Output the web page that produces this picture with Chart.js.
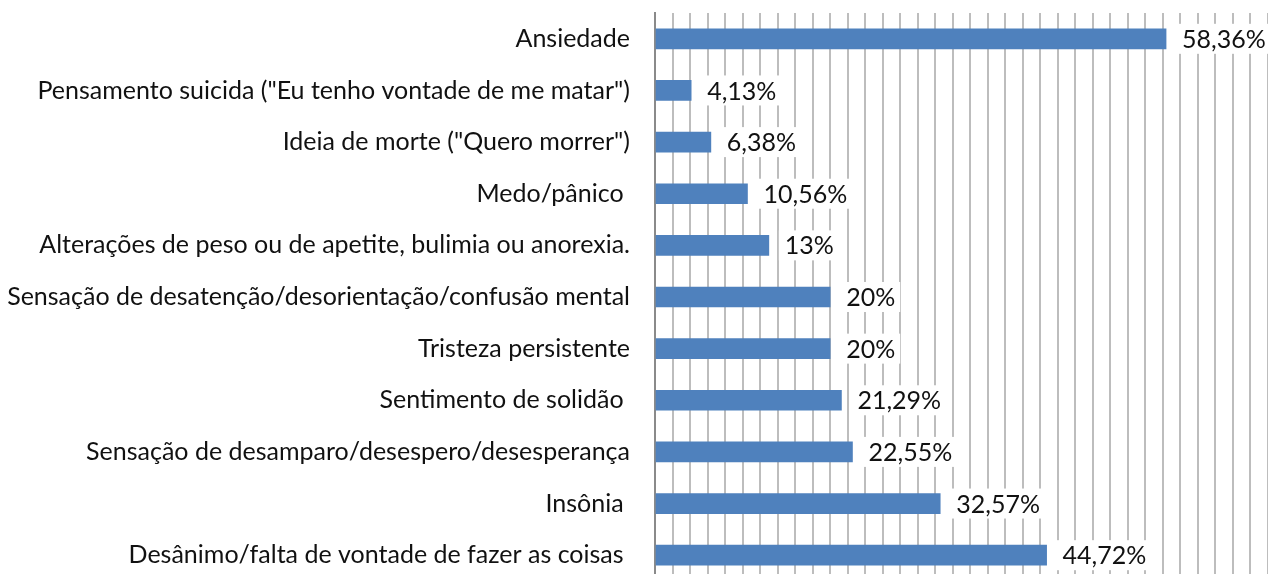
<!DOCTYPE html>
<html>
<head>
<meta charset="utf-8">
<script src="https://cdn.jsdelivr.net/npm/chart.js@4/dist/chart.umd.min.js"></script>
<style>
html, body { margin: 0; padding: 0; overflow: hidden; background: #fff; }
#wrap { width: 1268px; height: 574px; overflow: hidden; }
canvas { display: block; }
</style>
</head>
<body>
<div id="wrap"><canvas id="c" width="1268" height="581"></canvas></div>
<script>
const categories = [
  "Ansiedade",
  "Pensamento suicida (\"Eu tenho vontade de me matar\")",
  "Ideia de morte (\"Quero morrer\")",
  "Medo/pânico ",
  "Alterações de peso ou de apetite, bulimia ou anorexia.",
  "Sensação de desatenção/desorientação/confusão mental",
  "Tristeza persistente",
  "Sentimento de solidão ",
  "Sensação de desamparo/desespero/desesperança",
  "Insônia ",
  "Desânimo/falta de vontade de fazer as coisas "
];
const values = [58.36, 4.13, 6.38, 10.56, 13, 20, 20, 21.29, 22.55, 32.57, 44.72];
const axisMin = 0;
const axisMax = 70;
const axisStep = 2;

const FONT = "Lato";
const FONT_SIZE = 25;

function fmt(v) { return String(v).replace('.', ',') + '%'; }

const valueLabels = {
  id: 'valueLabels',
  afterDatasetsDraw(chart) {
    const ctx = chart.ctx;
    const meta = chart.getDatasetMeta(0);
    ctx.save();
    ctx.font = FONT_SIZE + 'px ' + FONT;
    ctx.textBaseline = 'middle';
    ctx.textAlign = 'left';
    meta.data.forEach((bar, i) => {
      const txt = fmt(values[i]);
      const x = bar.x + 16;
      const y = bar.y;
      const w = ctx.measureText(txt).width;
      ctx.fillStyle = '#ffffff';
      ctx.fillRect(x - 6, y - 15, w + 11, 30);
      ctx.fillStyle = '#111111';
      ctx.fillText(txt, x, y + 1);
    });
    ctx.restore();
  }
};

new Chart(document.getElementById('c'), {
  type: 'bar',
  data: {
    labels: categories,
    datasets: [{
      data: values,
      backgroundColor: '#4f81bd',
      borderWidth: 0,
      barThickness: 20
    }]
  },
  options: {
    indexAxis: 'y',
    responsive: false,
    animation: false,
    layout: { autoPadding: false, padding: { top: 13, right: 0, bottom: 0, left: 0 } },
    plugins: {
      legend: { display: false },
      tooltip: { enabled: false }
    },
    scales: {
      x: {
        min: axisMin,
        max: axisMax,
        ticks: { display: false, stepSize: axisStep },
        grid: { color: '#bdbdbd', lineWidth: 2, drawTicks: false },
        border: { display: false },
        afterFit(scale) { scale.height = 0; scale.paddingLeft = 0; scale.paddingRight = 0; }
      },
      y: {
        afterFit(scale) { scale.width = 655; scale.paddingTop = 0; scale.paddingBottom = 0; },
        ticks: {
          color: '#111111',
          padding: 25,
          font: { family: FONT, size: FONT_SIZE }
        },
        grid: { display: false, drawTicks: false },
        border: { display: true, color: '#8a8a8a', width: 2 }
      }
    }
  },
  plugins: [valueLabels]
});
</script>
</body>
</html>
